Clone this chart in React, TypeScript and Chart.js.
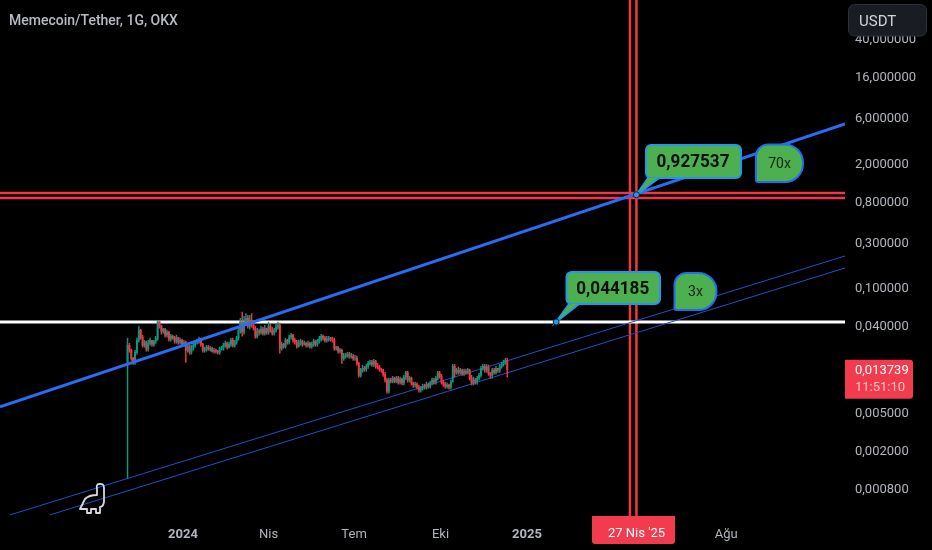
import React, { useEffect, useRef } from "react";
import { Chart, registerables } from "chart.js";

Chart.register(...registerables);

const UP = "#089981";
const DOWN = "#f23645";
const RED_LINE = "#f23645";
const LABEL = "#b2b5be";

// Candles, one entry every second day. Day 0 = 1 Jan 2024.
const firstCandleDay = -59;
const candleStepDays = 2;
const firstOpen = 0.0165;
const closes = [
  0.0247, 0.0219, 0.0181, 0.0164, 0.0209, 0.0279, 0.0355, 0.03, 0.0247, 0.0266,
  0.0225, 0.0259, 0.0279, 0.0253, 0.0273, 0.0293, 0.0431, 0.0391, 0.0347, 0.0364,
  0.0315, 0.0338, 0.0286, 0.0307, 0.0293, 0.0273, 0.03, 0.0266, 0.0279, 0.0253,
  0.0266, 0.0219, 0.0241, 0.0209, 0.023, 0.0247, 0.0266, 0.0273, 0.0286, 0.0253,
  0.0219, 0.0225, 0.0236, 0.0225, 0.023, 0.0214, 0.0219, 0.0214, 0.0209, 0.0225,
  0.023, 0.0247, 0.0259, 0.0236, 0.0253, 0.0279, 0.0247, 0.0266, 0.0293, 0.0355,
  0.0431, 0.0338, 0.0431, 0.0472, 0.0391, 0.0451, 0.04, 0.0372, 0.0307, 0.0347,
  0.0338, 0.0364, 0.033, 0.0372, 0.0338, 0.0391, 0.0355, 0.033, 0.0355, 0.0381,
  0.04, 0.023, 0.0253, 0.0241, 0.0279, 0.0266, 0.03, 0.0315, 0.0279, 0.0266,
  0.0241, 0.0259, 0.0273, 0.0253, 0.0259, 0.0247, 0.0259, 0.0241, 0.0253, 0.0273,
  0.0253, 0.0273, 0.0286, 0.0307, 0.0293, 0.0279, 0.0286, 0.0293, 0.0286, 0.0279,
  0.023, 0.0236, 0.0214, 0.0219, 0.0181, 0.019, 0.0194, 0.0199, 0.019, 0.019,
  0.0181, 0.0181, 0.016, 0.012, 0.0136, 0.0142, 0.0139, 0.0149, 0.016, 0.0164,
  0.0156, 0.0168, 0.0149, 0.0146, 0.0139, 0.0136, 0.0123, 0.0107, 0.0082, 0.0107,
  0.0104, 0.0112, 0.0104, 0.0112, 0.0102, 0.0109, 0.01, 0.0115, 0.0129, 0.0107,
  0.0112, 0.01, 0.0095, 0.0097, 0.009, 0.0084, 0.0088, 0.0092, 0.009, 0.0097,
  0.0092, 0.01, 0.0107, 0.0102, 0.0112, 0.0126, 0.0117, 0.0102, 0.0097, 0.0092,
  0.0095, 0.009, 0.0102, 0.0149, 0.0129, 0.0136, 0.0129, 0.0136, 0.0126, 0.0132,
  0.0129, 0.0136, 0.0112, 0.01, 0.0107, 0.0102, 0.0112, 0.012, 0.0142, 0.0149,
  0.0136, 0.0146, 0.0126, 0.012, 0.0136, 0.0129, 0.0142, 0.0136, 0.0149, 0.0156,
  0.0164, 0.0172, 0.013739,
];
const highs = [
  0.0293, 0.0259, 0.0225, 0.0185, 0.0219, 0.0293, 0.0391, 0.0364, 0.0315, 0.0279,
  0.0273, 0.0279, 0.0293, 0.0273, 0.0279, 0.0307, 0.0451, 0.044, 0.04, 0.0372,
  0.0372, 0.0355, 0.0347, 0.0322, 0.0315, 0.0307, 0.0315, 0.0279, 0.0293, 0.0286,
  0.0279, 0.0273, 0.0253, 0.0247, 0.0247, 0.0259, 0.0279, 0.0286, 0.03, 0.0293,
  0.0259, 0.0236, 0.0247, 0.0247, 0.0241, 0.0236, 0.023, 0.0225, 0.0219, 0.0236,
  0.0241, 0.0259, 0.0273, 0.0266, 0.0266, 0.0293, 0.0293, 0.0279, 0.0307, 0.0372,
  0.0472, 0.0547, 0.0496, 0.0528, 0.0508, 0.0508, 0.0528, 0.0451, 0.0391, 0.0372,
  0.0364, 0.0391, 0.0381, 0.04, 0.0372, 0.0431, 0.041, 0.0381, 0.0372, 0.041,
  0.0431, 0.042, 0.0266, 0.0259, 0.0293, 0.0286, 0.0315, 0.033, 0.0322, 0.0293,
  0.0279, 0.0279, 0.0286, 0.0279, 0.0273, 0.0266, 0.0273, 0.0266, 0.0266, 0.0286,
  0.0279, 0.0286, 0.0307, 0.0322, 0.0315, 0.0307, 0.0307, 0.0307, 0.03, 0.03,
  0.0293, 0.0241, 0.0241, 0.023, 0.0225, 0.0204, 0.0204, 0.0209, 0.0209, 0.0204,
  0.0199, 0.0194, 0.019, 0.0164, 0.0142, 0.0153, 0.0149, 0.0156, 0.0168, 0.0172,
  0.0172, 0.0176, 0.0172, 0.016, 0.0153, 0.0142, 0.0139, 0.0129, 0.0112, 0.0112,
  0.0112, 0.0117, 0.0115, 0.0117, 0.0117, 0.0115, 0.0112, 0.012, 0.0132, 0.0132,
  0.0117, 0.0115, 0.0102, 0.0102, 0.01, 0.0095, 0.0092, 0.0097, 0.0097, 0.0102,
  0.01, 0.0104, 0.0112, 0.0112, 0.0117, 0.0132, 0.0132, 0.0123, 0.0107, 0.0102,
  0.01, 0.0097, 0.0107, 0.0156, 0.0156, 0.0142, 0.0146, 0.0142, 0.0139, 0.0139,
  0.0139, 0.0142, 0.0139, 0.012, 0.0115, 0.0112, 0.0117, 0.0126, 0.0149, 0.0156,
  0.0156, 0.0156, 0.0153, 0.0129, 0.0142, 0.0142, 0.0149, 0.0142, 0.0156, 0.0164,
  0.0172, 0.0181, 0.0181,
];
const lows = [
  0.00102, 0.0209, 0.0172, 0.0156, 0.0156, 0.0199, 0.0266, 0.0286, 0.0236, 0.0236,
  0.0214, 0.0214, 0.0247, 0.0241, 0.0241, 0.0259, 0.0279, 0.0372, 0.0322, 0.033,
  0.03, 0.03, 0.0273, 0.0273, 0.0286, 0.0259, 0.0259, 0.0253, 0.0253, 0.0241,
  0.0241, 0.0164, 0.0209, 0.0199, 0.0199, 0.0219, 0.0236, 0.0253, 0.0259, 0.0241,
  0.0209, 0.0209, 0.0214, 0.0219, 0.0214, 0.0209, 0.0204, 0.0204, 0.0199, 0.0199,
  0.0219, 0.0219, 0.0236, 0.0225, 0.023, 0.0241, 0.0236, 0.0236, 0.0253, 0.0279,
  0.033, 0.0307, 0.0322, 0.04, 0.0372, 0.0364, 0.0381, 0.0355, 0.0293, 0.0293,
  0.0315, 0.0322, 0.0315, 0.0315, 0.0322, 0.0322, 0.0338, 0.0315, 0.0315, 0.0338,
  0.0364, 0.0204, 0.0219, 0.023, 0.023, 0.0253, 0.0253, 0.0286, 0.0266, 0.0253,
  0.023, 0.0236, 0.0247, 0.0241, 0.0247, 0.0236, 0.0236, 0.023, 0.023, 0.0241,
  0.0241, 0.0241, 0.0259, 0.0273, 0.0279, 0.0266, 0.0266, 0.0273, 0.0273, 0.0266,
  0.0219, 0.0219, 0.0204, 0.0204, 0.016, 0.0172, 0.0181, 0.0185, 0.0181, 0.0181,
  0.0172, 0.0172, 0.0153, 0.0115, 0.0115, 0.0129, 0.0132, 0.0132, 0.0142, 0.0153,
  0.0149, 0.0149, 0.0142, 0.0139, 0.0132, 0.0129, 0.0117, 0.0102, 0.0078, 0.0078,
  0.01, 0.01, 0.01, 0.01, 0.0097, 0.0097, 0.0095, 0.0095, 0.0109, 0.0102,
  0.0102, 0.0095, 0.009, 0.009, 0.0086, 0.008, 0.008, 0.0084, 0.0086, 0.0086,
  0.0088, 0.0088, 0.0095, 0.0097, 0.0097, 0.0107, 0.0112, 0.0097, 0.0092, 0.0088,
  0.0088, 0.0086, 0.0086, 0.0112, 0.0115, 0.0123, 0.0123, 0.0123, 0.012, 0.012,
  0.0123, 0.0123, 0.0107, 0.0095, 0.0095, 0.0097, 0.0097, 0.0107, 0.0115, 0.0136,
  0.0129, 0.0129, 0.012, 0.0112, 0.0112, 0.0123, 0.0123, 0.0129, 0.0129, 0.0142,
  0.0149, 0.0156, 0.0115,
];

// Axis ticks
const priceTicks = [0.0008, 0.002, 0.005, 0.04, 0.1, 0.3, 0.8, 2, 6, 16, 40];
const dateTickDays = [0, 91, 182, 274, 366, 578];
const dateTickLabels = ["2024", "Nis", "Tem", "Eki", "2025", "Ağu"];
const xMin = -194.7;
const xMax = 704.3;
const yMin = 0.000408;
const yMax = 99.3;

// Drawn lines [day, price]
const trendLine = [[-194.7, 0.00561], [704.3, 5.05]];
const channelUpper = [[-184, 0.000419], [704.3, 0.2113]];
const channelLower = [[-141.5, 0.000419], [704.3, 0.1585]];
const whiteLevel = 0.0433;
const redLevels = [0.961, 0.852];
const redDays = [475.5, 482.4];

// Annotations
const lastPrice = 0.013739;
const lastPriceText = "0,013739";
const countdownText = "11:51:10";
const cursorDay = 482;
const cursorText = "27 Nis '25";
const calloutTexts = ["0,927537", "0,044185"];
const calloutDays = [482.4, 397];
const calloutPrices = [0.92, 0.0433];
const titleText = "Memecoin/Tether, 1G, OKX";
const currencyText = "USDT";

const fmt = (v: number) => v.toFixed(6).replace(".", ",");
const pts = (a: number[][]) => a.map(([x, y]) => ({ x, y }));

function roundBox(
  ctx: CanvasRenderingContext2D,
  x: number, y: number, w: number, h: number,
  r: [number, number, number, number]
) {
  ctx.beginPath();
  ctx.roundRect(x, y, w, h, r);
}

const overlay = {
  id: "overlay",
  afterDraw(chart: any) {
    const { ctx, scales } = chart;
    const X = scales.x;
    const Y = scales.y;
    const font = (s: number, w = 400) => `${w} ${s}px Roboto`;
    ctx.save();
    ctx.textBaseline = "middle";

    // Callouts with pointers
    const boxes = [
      { x: 646, y: 145, w: 95, h: 33, b1: 648, b2: 659 },
      { x: 566.5, y: 272, w: 93.5, h: 32, b1: 569, b2: 579 },
    ];
    calloutTexts.forEach((text, i) => {
      const b = boxes[i];
      const px = X.getPixelForValue(calloutDays[i]);
      const py = Y.getPixelForValue(calloutPrices[i]);
      ctx.fillStyle = "#4caf50";
      ctx.strokeStyle = "#2196f3";
      ctx.lineWidth = 2;
      ctx.beginPath();
      ctx.moveTo(b.b1, b.y + b.h);
      ctx.lineTo(px, py);
      ctx.lineTo(b.b2, b.y + b.h);
      ctx.closePath();
      ctx.fill();
      ctx.stroke();
      roundBox(ctx, b.x, b.y, b.w, b.h, [5, 5, 5, 5]);
      ctx.fill();
      ctx.stroke();
      ctx.beginPath();
      ctx.moveTo(b.b1 + 1, b.y + b.h);
      ctx.lineTo(px + 1, py - 2);
      ctx.lineTo(b.b2 - 1, b.y + b.h);
      ctx.closePath();
      ctx.fill();
      ctx.save();
      ctx.fillStyle = "#0b0f0b";
      ctx.font = font(19, 700);
      ctx.textAlign = "center";
      ctx.translate(b.x + b.w / 2 - 0.5, b.y + b.h / 2 + 1);
      ctx.scale(0.9, 1);
      ctx.fillText(text, 0, 0);
      ctx.restore();
      ctx.beginPath();
      ctx.arc(px, py, 3, 0, Math.PI * 2);
      ctx.fillStyle = "#2196f3";
      ctx.fill();
      ctx.lineWidth = 1;
      ctx.strokeStyle = "#10243a";
      ctx.stroke();
    });

    // Balloons
    const balloons = [
      { text: "70x", x: 756, y: 144.5, w: 47, h: 37.5 },
      { text: "3x", x: 674.5, y: 273, w: 42, h: 37 },
    ];
    balloons.forEach((b) => {
      ctx.fillStyle = "#4caf50";
      ctx.strokeStyle = "#1e6ff0";
      ctx.lineWidth = 2;
      roundBox(ctx, b.x, b.y, b.w, b.h, [12, 18, 18, 2]);
      ctx.fill();
      ctx.stroke();
      ctx.fillStyle = "#10200f";
      ctx.font = font(14);
      ctx.textAlign = "center";
      ctx.fillText(b.text, b.x + b.w / 2, b.y + b.h / 2 + 1);
    });

    // Dino logo
    ctx.strokeStyle = "#d8dae0";
    ctx.lineWidth = 1.8;
    ctx.lineJoin = "round";
    ctx.beginPath();
    ctx.moveTo(80, 509);
    ctx.lineTo(85, 499);
    ctx.quadraticCurveTo(89, 495, 97, 495);
    ctx.lineTo(97, 489);
    ctx.quadraticCurveTo(96, 484, 99, 484);
    ctx.quadraticCurveTo(104, 483, 104, 488);
    ctx.lineTo(104, 502);
    ctx.quadraticCurveTo(103, 507, 100, 507);
    ctx.lineTo(100, 513);
    ctx.lineTo(96, 513);
    ctx.lineTo(96, 509);
    ctx.lineTo(91, 509);
    ctx.lineTo(91, 513);
    ctx.lineTo(87, 513);
    ctx.lineTo(87, 509);
    ctx.closePath();
    ctx.stroke();

    // Title
    ctx.textAlign = "left";
    ctx.font = font(14, 500);
    ctx.fillStyle = "#b8bbc4";
    ctx.fillText(titleText, 9, 21);

    // Currency button
    roundBox(ctx, 848.5, 4.5, 78, 31.5, [6, 6, 6, 6]);
    ctx.fillStyle = "#1a1c23";
    ctx.fill();
    ctx.strokeStyle = "#2e3038";
    ctx.lineWidth = 1;
    ctx.stroke();
    ctx.fillStyle = "#d1d4dc";
    ctx.font = font(15);
    ctx.fillText(currencyText, 859, 22);

    // Last price tag
    const ly = Y.getPixelForValue(lastPrice);
    roundBox(ctx, 845, ly - 10, 68, 39, [0, 3, 3, 0]);
    ctx.fillStyle = "#f23b4d";
    ctx.fill();
    ctx.font = font(13);
    ctx.fillStyle = "#ffffff";
    ctx.fillText(lastPriceText, 855, ly + 1);
    ctx.fillStyle = "#fbc3c9";
    ctx.fillText(countdownText, 855, ly + 18);

    // Cursor date tag
    const cx = X.getPixelForValue(cursorDay);
    roundBox(ctx, 592, 516, 83, 28, [0, 0, 3, 3]);
    ctx.fillStyle = "#f23b4d";
    ctx.fill();
    ctx.font = font(13);
    ctx.fillStyle = "#ffffff";
    ctx.textAlign = "center";
    ctx.fillText(cursorText, cx + 0.5, 534);
    ctx.restore();
  },
};

export default function App() {
  const ref = useRef<HTMLCanvasElement | null>(null);

  useEffect(() => {
    document.body.style.margin = "0";
    document.body.style.background = "#000";
    const opens = [firstOpen, ...closes.slice(0, -1)];
    const days = closes.map((_, i) => firstCandleDay + i * candleStepDays);
    const colors = closes.map((c, i) => (c >= opens[i] ? UP : DOWN));

    const line = (data: any[], color: string, width: number, order: number) => ({
      type: "line" as const,
      data,
      borderColor: color,
      borderWidth: width,
      pointRadius: 0,
      order,
      tension: 0,
    });

    const chart = new Chart(ref.current as HTMLCanvasElement, {
      type: "bar",
      data: {
        datasets: [
          line(pts(trendLine), "#2b6cf6", 3, 0),
          {
            type: "bar" as const,
            data: days.map((x, i) => ({ x, y: [opens[i], closes[i]] })),
            backgroundColor: colors,
            barThickness: 1.3,
            grouped: false,
            order: 1,
          },
          {
            type: "bar" as const,
            data: days.map((x, i) => ({ x, y: [lows[i], highs[i]] })),
            backgroundColor: colors,
            barThickness: 0.8,
            grouped: false,
            order: 2,
          },
          line(pts(channelUpper), "#2150c8", 1, 3),
          line(pts(channelLower), "#2150c8", 1, 3),
          line([{ x: xMin, y: whiteLevel }, { x: xMax, y: whiteLevel }], "#ffffff", 3, 4),
          ...redLevels.map((v) =>
            line([{ x: xMin, y: v }, { x: xMax, y: v }], RED_LINE, 2.5, 5)
          ),
          ...redDays.map((d) =>
            line([{ x: d, y: yMin }, { x: d, y: yMax }], RED_LINE, 2.5, 5)
          ),
        ] as any,
      },
      options: {
        responsive: false,
        animation: false,
        layout: { padding: 0 },
        plugins: {
          legend: { display: false },
          tooltip: { enabled: false },
          title: { display: false },
        },
        scales: {
          x: {
            type: "linear",
            min: xMin,
            max: xMax,
            offset: false,
            grid: { display: false, offset: false, drawTicks: false, tickLength: 0 },
            border: { display: false },
            afterFit: (s: any) => {
              s.height = 34;
              s.paddingLeft = 0;
              s.paddingRight = 0;
            },
            afterBuildTicks: (s: any) => {
              s.ticks = dateTickDays.map((value) => ({ value }));
            },
            ticks: {
              autoSkip: false,
              maxRotation: 0,
              padding: 11,
              color: LABEL,
              font: (c: any) => ({
                family: "Roboto",
                size: 13,
                weight: c.tick && (c.tick.value === 0 || c.tick.value === 366) ? 700 : 400,
              }),
              callback: (v: any) => dateTickLabels[dateTickDays.indexOf(Number(v))] ?? "",
            },
          },
          y: {
            type: "logarithmic",
            position: "right",
            min: yMin,
            max: yMax,
            grid: { display: false, drawTicks: false, tickLength: 0 },
            border: { display: false },
            afterFit: (s: any) => {
              s.width = 87;
              s.paddingTop = 0;
              s.paddingBottom = 0;
            },
            afterBuildTicks: (s: any) => {
              s.ticks = priceTicks.map((value) => ({ value }));
            },
            ticks: {
              autoSkip: false,
              padding: 10,
              labelOffset: 2,
              color: LABEL,
              font: { family: "Roboto", size: 13 },
              callback: (v: any) => fmt(Number(v)),
            },
          },
        },
      },
      plugins: [overlay],
    } as any);

    return () => chart.destroy();
  }, []);

  return (
    <canvas
      ref={ref}
      width={932}
      height={550}
      style={{ display: "block", width: 932, height: 550, background: "#000" }}
    />
  );
}
